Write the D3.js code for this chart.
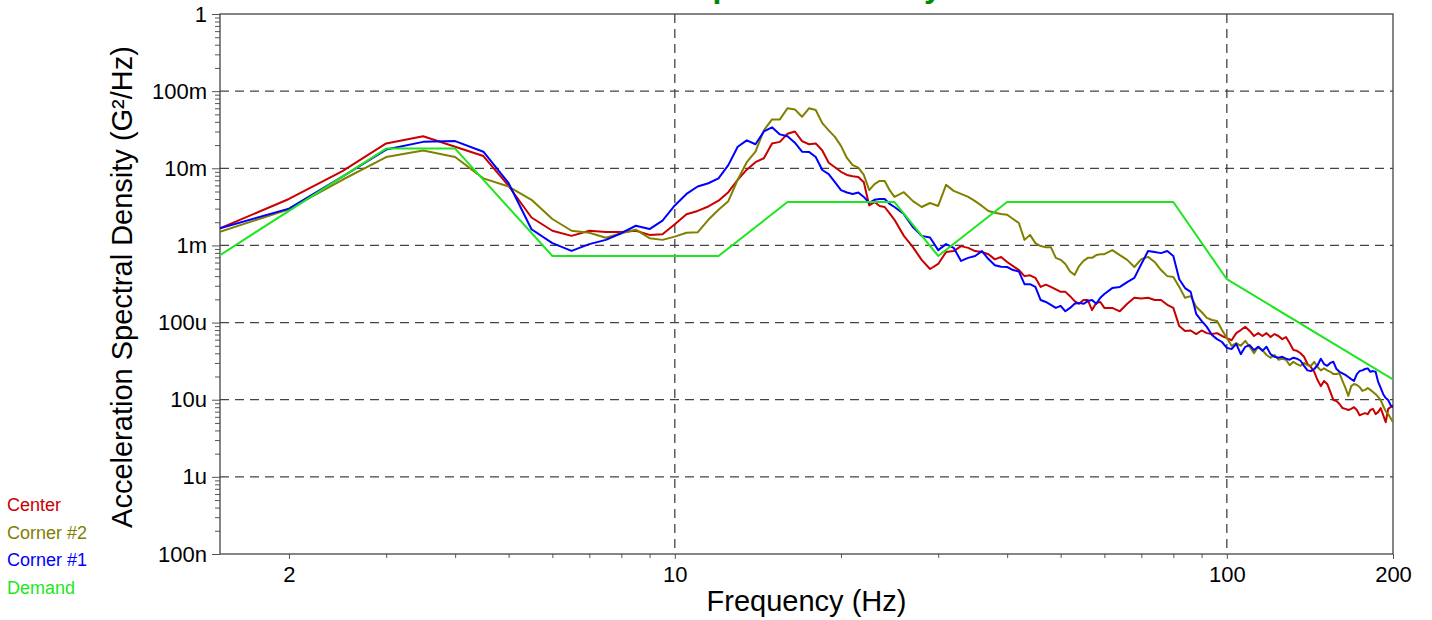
<!DOCTYPE html>
<html>
<head>
<meta charset="utf-8">
<script src="https://cdn.jsdelivr.net/npm/d3@7"></script>
<style>
  body { margin: 0; background: #fff; }
  svg { display: block; font-family: "Liberation Sans", Arial, sans-serif; }
</style>
</head>
<body>
<div id="chart"></div>
<script>
// frequency grid of the measured spectra (Hz)
const freqs = [
  1.5, 2, 2.5, 3, 3.5, 4, 4.5, 5, 5.5, 6, 6.5, 7,
  7.5, 8, 8.5, 9, 9.5, 10, 10.5, 11, 11.5, 12, 12.5, 13,
  13.5, 14, 14.5, 15, 15.5, 16, 16.5, 17, 17.5, 18, 18.5, 19,
  19.5, 20, 20.5, 21, 21.5, 22, 22.5, 23, 23.5, 24, 24.5, 25,
  26, 27, 28, 29, 30, 31, 32, 33, 34, 35,
  36, 37, 38, 39, 40, 41, 42, 43, 44, 45,
  46, 47, 48, 49, 50, 51, 52, 53, 54, 55,
  56, 57, 58, 59, 60,
  62, 64, 66, 68, 70, 72, 74, 76, 78, 80,
  82, 84, 86, 88, 90, 92, 94, 96, 98, 100,
  102, 104, 106, 108, 110, 112, 114, 116, 118, 120,
  122, 124, 126, 128, 130, 132, 134, 136, 138, 140,
  142, 144, 146, 148, 150, 152, 154, 156, 158, 160,
  162, 164, 166, 168, 170, 172, 174, 176, 178, 180,
  182, 184, 186, 188, 190, 192, 194, 196, 198, 200
];

// G^2/Hz
const center = [
  1.67e-3, 4.0e-3, 9.2e-3, 2.1e-2, 2.6e-2, 1.9e-2, 1.44e-2, 5.9e-3, 2.3e-3, 1.55e-3, 1.33e-3, 1.55e-3,
  1.49e-3, 1.49e-3, 1.55e-3, 1.37e-3, 1.4e-3, 1.88e-3, 2.53e-3, 2.8e-3, 3.2e-3, 3.8e-3, 4.9e-3, 7.1e-3,
  9.6e-3, 1.2e-2, 1.35e-2, 2.1e-2, 2.2e-2, 2.8e-2, 3.0e-2, 2.25e-2, 2.05e-2, 2.1e-2, 1.7e-2, 1.18e-2,
  1.03e-2, 9.0e-3, 8.2e-3, 7.9e-3, 7.7e-3, 6.6e-3, 3.3e-3, 3.65e-3, 3.25e-3, 3.15e-3, 2.6e-3, 2.15e-3,
  1.33e-3, 9.5e-4, 6.5e-4, 4.95e-4, 5.75e-4, 8.2e-4, 8.45e-4, 9.8e-4, 9.3e-4, 8.45e-4,
  8.2e-4, 7.7e-4, 6.6e-4, 7.1e-4, 6.1e-4, 5.4e-4, 4.8e-4, 4.0e-4, 4.1e-4, 3.8e-4,
  2.9e-4, 3.1e-4, 2.9e-4, 2.7e-4, 2.5e-4, 2.5e-4, 2.2e-4, 1.9e-4, 1.75e-4, 1.96e-4,
  1.96e-4, 1.45e-4, 1.8e-4, 1.85e-4, 1.55e-4,
  1.55e-4, 1.4e-4, 1.75e-4, 2.1e-4, 2.05e-4, 2.1e-4, 1.96e-4, 1.96e-4, 1.7e-4, 1.55e-4,
  9.0e-5, 7.8e-5, 7.9e-5, 7.1e-5, 7.9e-5, 7.3e-5, 7.1e-5, 7.3e-5, 6.7e-5, 6.3e-5,
  5.9e-5, 7.3e-5, 8.0e-5, 8.8e-5, 7.8e-5, 6.7e-5, 7.3e-5, 6.7e-5, 7.3e-5, 6.5e-5,
  7.1e-5, 6.7e-5, 6.1e-5, 6.5e-5, 5.4e-5, 4.4e-5, 4.3e-5, 4.0e-5, 3.6e-5, 2.9e-5,
  2.65e-5, 2.3e-5, 1.8e-5, 1.5e-5, 1.75e-5, 1.6e-5, 1.26e-5, 9.9e-6, 9.6e-6, 8.8e-6,
  7.8e-6, 7.6e-6, 7.35e-6, 7.6e-6, 8.0e-6, 7.35e-6, 6.3e-6, 6.5e-6, 6.7e-6, 6.5e-6,
  7.35e-6, 7.6e-6, 6.5e-6, 6.9e-6, 7.8e-6, 6.3e-6, 5.1e-6, 7.6e-6, 8.0e-6, 8.5e-6
];

const corner2 = [
  1.5e-3, 2.95e-3, 7.1e-3, 1.4e-2, 1.7e-2, 1.4e-2, 7.4e-3, 5.8e-3, 3.9e-3, 2.2e-3, 1.55e-3, 1.46e-3,
  1.26e-3, 1.44e-3, 1.6e-3, 1.24e-3, 1.18e-3, 1.3e-3, 1.46e-3, 1.48e-3, 2.15e-3, 2.9e-3, 3.75e-3, 7.1e-3,
  1.2e-2, 1.64e-2, 3.1e-2, 4.3e-2, 4.3e-2, 6.0e-2, 5.8e-2, 4.65e-2, 6.0e-2, 5.7e-2, 3.85e-2, 3.1e-2,
  2.55e-2, 1.95e-2, 1.36e-2, 1.1e-2, 1.02e-2, 8.2e-3, 5.2e-3, 6.25e-3, 6.85e-3, 6.85e-3, 5.2e-3, 4.25e-3,
  4.9e-3, 3.75e-3, 3.15e-3, 3.55e-3, 3.25e-3, 6.1e-3, 5.1e-3, 4.65e-3, 4.25e-3, 3.75e-3,
  3.25e-3, 2.8e-3, 2.65e-3, 2.55e-3, 2.5e-3, 2.2e-3, 1.95e-3, 1.18e-3, 1.37e-3, 1.07e-3,
  9.8e-4, 9.5e-4, 9.5e-4, 6.9e-4, 6.5e-4, 5.75e-4, 4.6e-4, 4.15e-4, 5.4e-4, 6.3e-4,
  6.9e-4, 6.9e-4, 7.5e-4, 7.7e-4, 7.7e-4,
  8.7e-4, 7.5e-4, 6.5e-4, 5.25e-4, 6.65e-4, 7.1e-4, 6.1e-4, 4.8e-4, 4.0e-4, 3.9e-4,
  2.9e-4, 2.1e-4, 2.2e-4, 1.6e-4, 1.37e-4, 1.15e-4, 1.08e-4, 1.05e-4, 8.0e-5, 6.3e-5,
  5.0e-5, 5.4e-5, 5.0e-5, 5.8e-5, 4.85e-5, 4.0e-5, 4.85e-5, 4.4e-5, 3.8e-5, 3.5e-5,
  3.8e-5, 3.3e-5, 3.4e-5, 3.3e-5, 2.8e-5, 3.1e-5, 2.9e-5, 2.75e-5, 3.0e-5, 2.8e-5,
  2.75e-5, 3.1e-5, 2.65e-5, 2.4e-5, 2.55e-5, 2.4e-5, 2.3e-5, 2.15e-5, 2.15e-5, 2.2e-5,
  1.75e-5, 1.42e-5, 1.12e-5, 1.5e-5, 1.6e-5, 1.55e-5, 1.46e-5, 1.3e-5, 1.34e-5, 1.42e-5,
  1.34e-5, 1.26e-5, 1.18e-5, 1.09e-5, 9.9e-6, 8.3e-6, 7.1e-6, 6.5e-6, 5.8e-6, 5.1e-6
];

const corner1 = [
  1.67e-3, 3.0e-3, 7.8e-3, 1.75e-2, 2.2e-2, 2.25e-2, 1.64e-2, 6.4e-3, 1.62e-3, 1.07e-3, 8.5e-4, 1.04e-3,
  1.18e-3, 1.44e-3, 1.8e-3, 1.63e-3, 2.1e-3, 3.3e-3, 4.65e-3, 5.8e-3, 6.4e-3, 7.4e-3, 1.1e-2, 1.9e-2,
  2.3e-2, 2.05e-2, 3.0e-2, 3.4e-2, 2.75e-2, 2.6e-2, 2.15e-2, 1.64e-2, 1.63e-2, 1.4e-2, 9.5e-3, 8.4e-3,
  6.6e-3, 5.2e-3, 4.85e-3, 4.65e-3, 4.85e-3, 4.25e-3, 3.55e-3, 3.9e-3, 4.0e-3, 4.0e-3, 3.45e-3, 3.15e-3,
  2.55e-3, 1.73e-3, 1.33e-3, 1.27e-3, 8.7e-4, 1.04e-3, 9.3e-4, 6.3e-4, 6.9e-4, 7.3e-4,
  8.45e-4, 6.65e-4, 5.55e-4, 5.3e-4, 5.25e-4, 4.8e-4, 4.6e-4, 3.15e-4, 3.15e-4, 2.9e-4,
  1.96e-4, 1.85e-4, 1.7e-4, 1.55e-4, 1.65e-4, 1.4e-4, 1.55e-4, 1.75e-4, 1.8e-4, 1.75e-4,
  1.9e-4, 1.96e-4, 1.75e-4, 2.1e-4, 2.35e-4,
  2.8e-4, 2.9e-4, 3.35e-4, 3.8e-4, 5.75e-4, 8.45e-4, 8.2e-4, 7.95e-4, 8.45e-4, 7.3e-4,
  3.65e-4, 2.8e-4, 2.5e-4, 1.3e-4, 1.05e-4, 8.8e-5, 6.9e-5, 6.1e-5, 5.6e-5, 4.7e-5,
  4.55e-5, 5.3e-5, 3.9e-5, 4.85e-5, 5.1e-5, 4.4e-5, 4.85e-5, 4.3e-5, 4.85e-5, 3.9e-5,
  3.6e-5, 3.5e-5, 3.6e-5, 3.4e-5, 3.3e-5, 3.5e-5, 3.4e-5, 3.2e-5, 2.75e-5, 2.4e-5,
  2.35e-5, 2.5e-5, 2.8e-5, 3.4e-5, 2.9e-5, 2.75e-5, 3.0e-5, 3.1e-5, 2.5e-5, 2.3e-5,
  2.2e-5, 2.1e-5, 1.97e-5, 1.85e-5, 1.75e-5, 2.15e-5, 2.35e-5, 2.4e-5, 2.5e-5, 2.55e-5,
  2.3e-5, 2.35e-5, 2.3e-5, 1.7e-5, 1.42e-5, 1.18e-5, 1.05e-5, 9.9e-6, 8.5e-6, 8.0e-6
];

// demand profile breakpoints
const demandFreqs = [1.5, 3, 4, 6, 12, 16, 25, 30, 40, 80, 100, 200];
const demand = [7.5e-4, 1.8e-2, 1.8e-2, 7.3e-4, 7.3e-4, 3.65e-3, 3.65e-3, 7.3e-4, 3.65e-3, 3.65e-3, 3.65e-4, 1.83e-5];

const seriesNames = ['Center', 'Corner #2', 'Corner #1', 'Demand'];
const seriesColors = ['#c80000', '#808000', '#0000ff', '#1ee61e'];

const yTickValues = [1e-7, 1e-6, 1e-5, 1e-4, 1e-3, 1e-2, 1e-1, 1];
const yTickLabels = ['100n', '1u', '10u', '100u', '1m', '10m', '100m', '1'];
const xTickValues = [2, 10, 100, 200];
const xTickLabels = ['2', '10', '100', '200'];

const width = 1432;
const height = 620;
const margin = { top: 14, right: 39, bottom: 66, left: 220 };
const innerW = width - margin.left - margin.right;
const innerH = height - margin.top - margin.bottom;

const svg = d3.select('#chart').append('svg')
  .attr('width', width)
  .attr('height', height);

svg.append('rect').attr('width', width).attr('height', height).attr('fill', '#fff');

// title, mostly cut off at the top edge (as in the original)
svg.append('text')
  .attr('x', width / 2)
  .attr('y', -3)
  .attr('text-anchor', 'middle')
  .attr('font-size', 32)
  .attr('font-weight', 'bold')
  .attr('fill', '#008a00')
  .text('Acceleration Spectral Density');

const g = svg.append('g')
  .attr('transform', 'translate(' + margin.left + ',' + margin.top + ')');

const x = d3.scaleLog().domain([1.5, 200]).range([0, innerW]);
const y = d3.scaleLog().domain([1e-7, 1]).range([innerH, 0]);

// dashed grid
g.append('g').selectAll('line')
  .data(yTickValues.slice(1, -1))
  .join('line')
  .attr('x1', 0).attr('x2', innerW)
  .attr('y1', d => y(d)).attr('y2', d => y(d))
  .attr('stroke', '#444').attr('stroke-width', 1.3)
  .attr('stroke-dasharray', '9,6');

g.append('g').selectAll('line')
  .data([10, 100])
  .join('line')
  .attr('x1', d => x(d)).attr('x2', d => x(d))
  .attr('y1', 0).attr('y2', innerH)
  .attr('stroke', '#444').attr('stroke-width', 1.3)
  .attr('stroke-dasharray', '9,6');

// minor ticks
const yMinor = [];
for (let k = -7; k < 0; k++) {
  for (let m = 2; m <= 9; m++) yMinor.push(m * Math.pow(10, k));
}
const xMinor = [3, 4, 5, 6, 7, 8, 9, 20, 30, 40, 50, 60, 70, 80, 90];

g.append('g')
  .call(d3.axisLeft(y).tickValues(yMinor).tickSize(5).tickFormat(''))
  .call(a => a.select('.domain').remove())
  .call(a => a.selectAll('line').attr('stroke', '#555'));

g.append('g')
  .attr('transform', 'translate(0,' + innerH + ')')
  .call(d3.axisBottom(x).tickValues(xMinor).tickSize(4).tickFormat(''))
  .call(a => a.select('.domain').remove())
  .call(a => a.selectAll('line').attr('stroke', '#555'));

// major ticks with labels
g.append('g')
  .call(d3.axisLeft(y).tickValues(yTickValues).tickSize(8).tickPadding(5)
    .tickFormat((d, i) => yTickLabels[i]))
  .call(a => a.select('.domain').remove())
  .call(a => a.selectAll('line').attr('stroke', '#555'))
  .call(a => a.selectAll('text').attr('font-size', 22).attr('fill', '#000')
    .attr('font-family', '"Liberation Sans", Arial, sans-serif'));

g.append('g')
  .attr('transform', 'translate(0,' + innerH + ')')
  .call(d3.axisBottom(x).tickValues(xTickValues).tickSize(5).tickPadding(7)
    .tickFormat((d, i) => xTickLabels[i]))
  .call(a => a.select('.domain').remove())
  .call(a => a.selectAll('line').attr('stroke', '#555'))
  .call(a => a.selectAll('text').attr('font-size', 22).attr('fill', '#000')
    .attr('font-family', '"Liberation Sans", Arial, sans-serif'));

// frame
g.append('rect')
  .attr('width', innerW).attr('height', innerH)
  .attr('fill', 'none').attr('stroke', '#444').attr('stroke-width', 1.3);

// series
const line = d3.line()
  .x(d => x(d[0]))
  .y(d => y(d[1]));

g.append('defs').append('clipPath')
  .attr('id', 'clip')
  .append('rect')
  .attr('width', innerW)
  .attr('height', innerH);

const seriesData = [
  d3.zip(freqs, center),
  d3.zip(freqs, corner2),
  d3.zip(freqs, corner1),
  d3.zip(demandFreqs, demand)
];

g.append('g').attr('clip-path', 'url(#clip)')
  .selectAll('path')
  .data(seriesData)
  .join('path')
  .attr('d', line)
  .attr('fill', 'none')
  .attr('stroke', (d, i) => seriesColors[i])
  .attr('stroke-width', 2)
  .attr('stroke-linejoin', 'round');

// axis titles
svg.append('text')
  .attr('x', margin.left + innerW / 2)
  .attr('y', 611)
  .attr('text-anchor', 'middle')
  .attr('font-size', 29)
  .text('Frequency (Hz)');

svg.append('text')
  .attr('transform', 'translate(132,' + (margin.top + innerH / 2 + 3) + ') rotate(-90)')
  .attr('text-anchor', 'middle')
  .attr('font-size', 29)
  .text('Acceleration Spectral Density (G²/Hz)');

// legend
svg.append('g').selectAll('text')
  .data(seriesNames)
  .join('text')
  .attr('x', 7)
  .attr('y', (d, i) => 511 + i * 27.5)
  .attr('font-size', 18)
  .attr('fill', (d, i) => seriesColors[i])
  .text(d => d);
</script>
</body>
</html>
